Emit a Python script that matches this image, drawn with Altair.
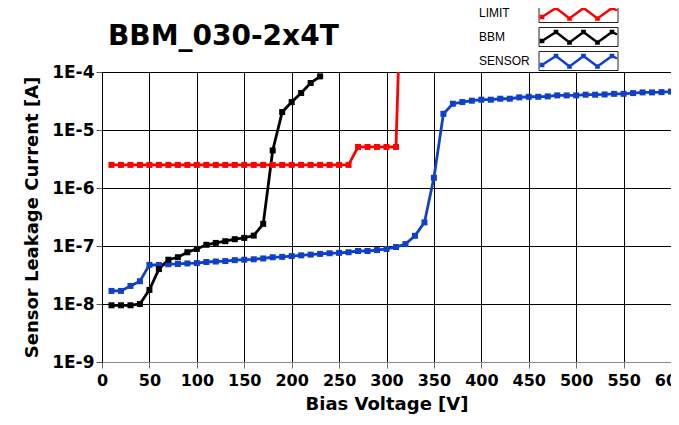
import altair as alt
import pandas as pd

# ---- data ----
series_names = ["LIMIT", "BBM", "SENSOR"]
series_colors = ["#ff0000", "#000000", "#1040c8"]

limit_v = list(range(10, 330, 10))
limit_i = [2.5e-6, 2.5e-6, 2.5e-6, 2.5e-6, 2.5e-6, 2.5e-6, 2.5e-6, 2.5e-6,
           2.5e-6, 2.5e-6, 2.5e-6, 2.5e-6, 2.5e-6, 2.5e-6, 2.5e-6, 2.5e-6,
           2.5e-6, 2.5e-6, 2.5e-6, 2.5e-6, 2.5e-6, 2.5e-6, 2.5e-6, 2.5e-6,
           2.5e-6, 2.5e-6, 5.1e-6, 5.1e-6, 5.1e-6, 5.1e-6, 5.1e-6, 1.0]

bbm_v = list(range(10, 240, 10))
bbm_i = [9.5e-9, 9.5e-9, 9.5e-9, 1.0e-8, 1.75e-8, 4.0e-8, 5.8e-8, 6.4e-8,
         7.8e-8, 8.9e-8, 1.05e-7, 1.13e-7, 1.21e-7, 1.31e-7, 1.38e-7, 1.51e-7,
         2.41e-7, 4.44e-6, 2.04e-5, 3.03e-5, 4.35e-5, 6.46e-5, 8.4e-5]

sensor_v = list(range(10, 610, 10))
sensor_i = [1.68e-8, 1.68e-8, 2.05e-8, 2.47e-8, 4.73e-8, 4.7e-8, 4.85e-8, 4.9e-8,
            5.0e-8, 5.07e-8, 5.3e-8, 5.4e-8, 5.5e-8, 5.7e-8, 5.8e-8, 5.9e-8,
            6.1e-8, 6.4e-8, 6.5e-8, 6.7e-8, 6.9e-8, 7.1e-8, 7.3e-8, 7.5e-8,
            7.6e-8, 7.8e-8, 8.2e-8, 8.2e-8, 8.5e-8, 8.9e-8, 9.6e-8, 1.08e-7,
            1.5e-7, 2.55e-7, 1.5e-6, 1.9e-5, 2.84e-5, 3.03e-5, 3.2e-5, 3.33e-5,
            3.33e-5, 3.46e-5, 3.46e-5, 3.65e-5, 3.74e-5, 3.74e-5, 3.8e-5, 3.95e-5,
            3.95e-5, 3.95e-5, 4.06e-5, 4.06e-5, 4.1e-5, 4.2e-5, 4.2e-5, 4.33e-5,
            4.45e-5, 4.45e-5, 4.5e-5, 4.6e-5]

x_ticks = list(range(0, 601, 50))
y_ticks = [1e-9, 1e-8, 1e-7, 1e-6, 1e-5, 1e-4]

rows = []
for name, vs, cs in [("SENSOR", sensor_v, sensor_i), ("LIMIT", limit_v, limit_i), ("BBM", bbm_v, bbm_i)]:
    for v, c in zip(vs, cs):
        rows.append({"series": name, "voltage": v, "current": c})
df = pd.DataFrame(rows)

# ---- legend symbol styles (zigzag with square markers, and a framed box) ----
# the zigzag runs forward and back along itself so that its fill has no area
zig_pts = [(14.5, 0.7), (17.3, -1.1), (20.0, 1.0), (22.8, -1.1), (25.6, 1.0), (28.5, -1.1), (29.5, -0.6)]
zig_path_pts = zig_pts + zig_pts[-2::-1]
ZIGZAG = "M" + "L".join(f"{x},{y}" for x, y in zig_path_pts) + "Z"
for x, y in zig_pts[:-1]:
    ZIGZAG += f"M{x-0.22},{y-0.22}h0.44v0.44h-0.44Z"
BOX = "M14,-1.9H29.8V1.9H14Z"

FONT = "DejaVu Sans"
LEG_X, LEG_Y = 361, -65
ROW_PAD = 0

legend_common = dict(orient="none", legendX=LEG_X, legendY=LEG_Y, title=None,
                     symbolSize=100, labelFontSize=12, labelFont="Liberation Sans",
                     rowPadding=ROW_PAD, padding=0)

chart = alt.Chart(df).transform_calculate(frame="datum.series + ' '").mark_line(
    strokeWidth=2.8, clip=True,
    point=alt.OverlayMarkDef(shape="square", size=36, filled=True, clip=True, opacity=1),
).encode(
    x=alt.X("voltage:Q",
            scale=alt.Scale(domain=[0, 600], nice=False, zero=False),
            axis=alt.Axis(values=x_ticks, title="Bias Voltage [V]", labelFlush=False,
                          labelOverlap=False, domainColor="#8a8a8a", tickColor="#6a6a6a",
                          labelPadding=4, titlePadding=7)),
    y=alt.Y("current:Q",
            scale=alt.Scale(type="log", domain=[1e-9, 1e-4], nice=False),
            axis=alt.Axis(values=y_ticks, title="Sensor Leakage Current [A]",
                          labelExpr="'1E' + round(log(datum.value) / LN10)",
                          labelFontSize=17, labelPadding=2, labelFlush=False,
                          labelOverlap=False, domainColor="#000000", tickColor="#555555",
                          titlePadding=10)),
    color=alt.Color("series:N",
                    scale=alt.Scale(domain=series_names, range=series_colors),
                    legend=alt.Legend(symbolType=ZIGZAG, symbolStrokeWidth=2.5,
                                      symbolFillColor="transparent", labelOpacity=0,
                                      zindex=2, **legend_common)),
    opacity=alt.Opacity("frame:N",
                        scale=alt.Scale(domain=[s + " " for s in series_names], range=[1, 1, 1]),
                        legend=alt.Legend(symbolType=BOX, symbolStrokeColor="#222222",
                                          symbolStrokeWidth=1, symbolFillColor="white",
                                          labelColor="#000000", zindex=1, **legend_common)),
).properties(
    width=569, height=290,
    title=alt.Title("BBM_030-2x4T", anchor="start", frame="group", fontSize=28,
                    font=FONT, fontWeight="bold", color="#000000", dx=6, offset=-66,
                    baseline="alphabetic"),
    autosize=alt.AutoSizeParams(type="none"),
    padding={"left": 94, "top": 64, "right": 0, "bottom": 54},
).configure_axis(
    labelFont=FONT, labelFontWeight="bold", labelFontSize=16, labelColor="#000000",
    titleFont=FONT, titleFontWeight="bold", titleFontSize=18, titleColor="#000000",
    gridColor="#000000", gridOpacity=1, gridWidth=1, tickSize=6, tickWidth=1,
).configure_view(
    stroke="#000000", strokeWidth=1,
)

chart.save("out.html", embed_options={"renderer": "svg", "actions": False})
